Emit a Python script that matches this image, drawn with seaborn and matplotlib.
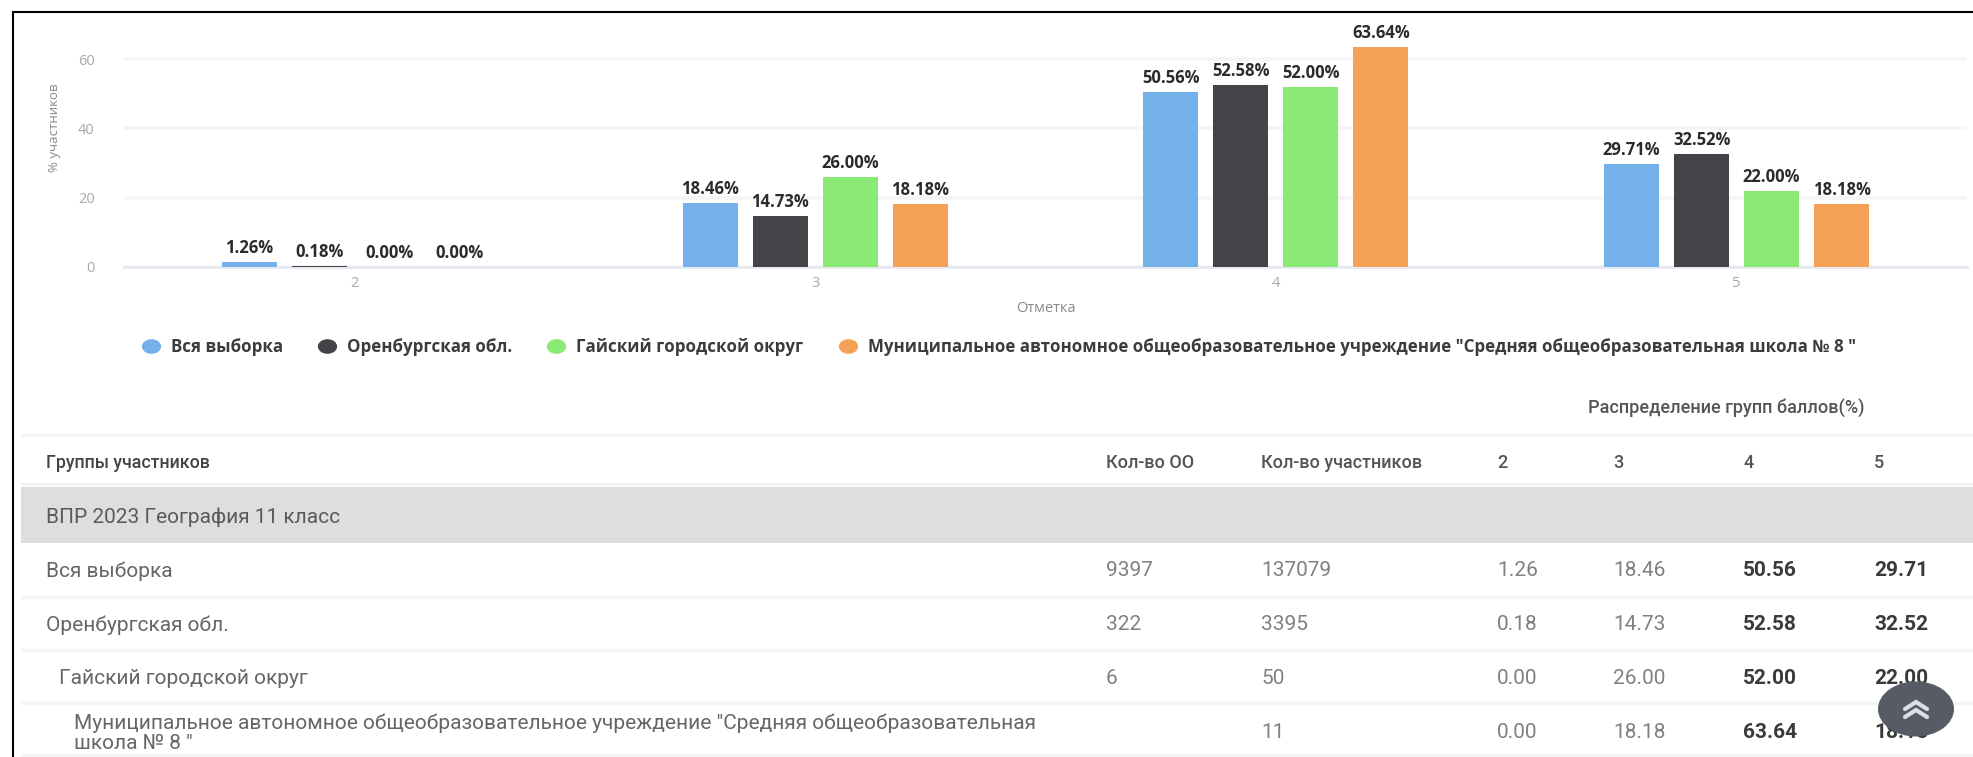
import matplotlib
matplotlib.use("Agg")
import matplotlib.pyplot as plt
import pandas as pd
import seaborn as sns
from matplotlib.lines import Line2D
from matplotlib.markers import MarkerStyle
from matplotlib.patches import Ellipse, Rectangle
from matplotlib.transforms import Affine2D

# ---------- data ----------
grades = ["2", "3", "4", "5"]
series_names = [
    "Вся выборка",
    "Оренбургская обл.",
    "Гайский городской округ",
    'Муниципальное автономное общеобразовательное учреждение "Средняя общеобразовательная школа № 8 "',
]
vsya = [1.26, 18.46, 50.56, 29.71]
orenburg = [0.18, 14.73, 52.58, 32.52]
gaisky = [0.00, 26.00, 52.00, 22.00]
school = [0.00, 18.18, 63.64, 18.18]
colors = ["#74b1ea", "#434348", "#8aea75", "#f6a256"]

table_headers = ["Кол-во ОО", "Кол-во участников", "2", "3", "4", "5"]
table_names = ["Вся выборка", "Оренбургская обл.", "Гайский городской округ",
               'Муниципальное автономное общеобразовательное учреждение "Средняя общеобразовательная\nшкола № 8 "']
table_oo = ["9397", "322", "6", ""]
table_part = ["137079", "3395", "50", "11"]
band_title = "ВПР 2023 География 11 класс"
group_title = "Распределение групп баллов(%)"

W, H = 1973, 757
sns.set_theme(style="white")
plt.rcParams["font.family"] = ["Open Sans", "DejaVu Sans"]
fig = plt.figure(figsize=(W / 100, H / 100), dpi=100, facecolor="white")

# overlay in pixel coordinates for the page furniture and the table
page = fig.add_axes([0, 0, 1, 1], zorder=1)
page.set_xlim(0, W)
page.set_ylim(H, 0)
page.axis("off")

# ---------- chart ----------
L, R, T, B = 124, 1967, 38.4, 266.7
ax = fig.add_axes([L / W, 1 - B / H, (R - L) / W, (B - T) / H], zorder=2)
ax.patch.set_alpha(0)
df = pd.DataFrame({
    "grade": grades * 4,
    "value": vsya + orenburg + gaisky + school,
    "group": [n for n in series_names for _ in grades],
})
sns.barplot(data=df, x="grade", y="value", hue="group", order=grades,
            hue_order=series_names, palette=colors, width=0.608, gap=0.214,
            saturation=1, legend=False, ax=ax, zorder=3, linewidth=0)
ax.set_xlim(-0.5, 3.5)
ax.set_ylim(0, 66)
ax.set_yticks([0, 20, 40, 60])
ax.grid(axis="y", color="#f5f5f5", lw=2.6, zorder=0)
ax.grid(axis="x", visible=False)
for s in ["top", "right", "left"]:
    ax.spines[s].set_visible(False)
ax.spines["bottom"].set_color("#e6e9f0")
ax.spines["bottom"].set_linewidth(2)
ax.tick_params(axis="both", length=0, labelsize=10.5, labelcolor="#a8a8a8", pad=7)
ax.tick_params(axis="y", pad=21)
ax.set_xlabel("Отметка", fontsize=10.5, color="#8a8a8a", labelpad=7)
ax.set_ylabel("% участников", fontsize=9.5, color="#8a8a8a", labelpad=12.4, y=0.607)
for c in ax.containers:
    ax.bar_label(c, fmt="%.2f%%", padding=3.6, fontsize=12, fontweight="bold",
                 color="#2b2b2b", clip_on=False)

handles = [Line2D([], [], linestyle="none", color=c, markersize=9.5,
                  marker=MarkerStyle("o", transform=Affine2D().scale(1.35, 1)))
           for c in colors]
LEG = 12.2
px = LEG * 100 / 72
leg = fig.legend(handles, series_names, ncol=4, frameon=False,
                 loc="center left", bbox_to_anchor=(142 / W, 1 - 347 / H),
                 bbox_transform=fig.transFigure, borderaxespad=0, borderpad=0,
                 handlelength=18 / px, handletextpad=11 / px, columnspacing=35 / px,
                 prop={"family": "Open Sans", "weight": "bold", "size": LEG})
for t in leg.get_texts():
    t.set_color("#3c3c3c")

# ---------- frame ----------
page.plot([13, 13], [12, H], color="black", lw=1.5, solid_capstyle="projecting")
page.plot([13, W], [12, 12], color="black", lw=1.5, solid_capstyle="projecting")

# ---------- table ----------
page.add_patch(Rectangle((21, 487), W - 21, 56, color="#dedede", lw=0))
for y in [435, 484, 597, 650, 703, 755]:
    page.plot([21, W], [y, y], color="#f4f4f4", lw=2.4, solid_capstyle="butt")

TXT = dict(family="Roboto", va="center", ha="left")
page.text(1588, 408.5, group_title, fontsize=13.1, color="#555555", fontweight="medium", **TXT)
page.text(46, 462.5, "Группы участников", fontsize=12.8, color="#444444", fontweight="medium", **TXT)
col_x = [1106, 1261, 1497, 1613, 1743, 1874]
for x, h in zip(col_x, table_headers):
    page.text(x, 462.5, h, fontsize=13, color="#555555", fontweight="medium", **TXT)
page.text(46, 517.5, band_title, fontsize=15, color="#5a5a5a", **TXT)

row_y = [571, 625, 679, 733]
name_x = [46, 46, 59, 74]
rows = [vsya, orenburg, gaisky, school]
for i in range(4):
    page.text(name_x[i], row_y[i], table_names[i], fontsize=15, color="#666666",
              linespacing=1.05, **TXT)
    page.text(col_x[0], row_y[i], table_oo[i], fontsize=15, color="#808080", **TXT)
    page.text(col_x[1], row_y[i], table_part[i], fontsize=15, color="#808080", **TXT)
    vals = rows[i]
    page.text(col_x[2], row_y[i], f"{vals[0]:.2f}", fontsize=15, color="#808080", **TXT)
    page.text(col_x[3], row_y[i], f"{vals[1]:.2f}", fontsize=15, color="#808080", **TXT)
    page.text(col_x[4], row_y[i], f"{vals[2]:.2f}", fontsize=15, color="#3a3a3a", fontweight="bold", **TXT)
    page.text(col_x[5], row_y[i], f"{vals[3]:.2f}", fontsize=15, color="#3a3a3a", fontweight="bold", **TXT)

# ---------- scroll-to-top button ----------
page.add_patch(Ellipse((1916, 709), 76, 55, color="#565b66", lw=0, zorder=5))
for dy in (0, 8):
    page.plot([1905, 1916, 1927], [709 + dy, 702 + dy, 709 + dy], color="#dde1e6",
              lw=3, zorder=6, solid_joinstyle="miter")

fig.savefig("out.png", dpi=100, facecolor="white")
